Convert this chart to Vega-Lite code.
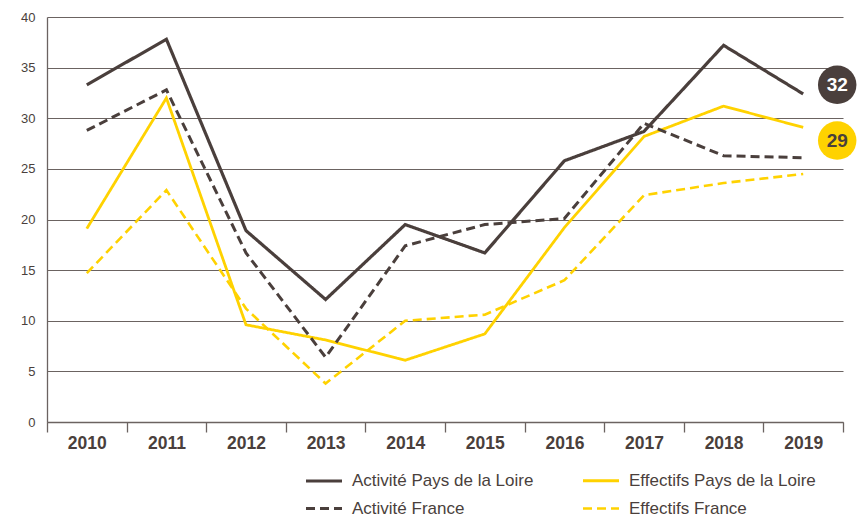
{
  "$schema": "https://vega.github.io/schema/vega-lite/v6.json",
  "width": 796,
  "height": 405,
  "autosize": "none",
  "padding": {"left": 47, "top": 17, "right": 16, "bottom": 94},
  "background": "white",
  "config": {
    "font": "Liberation Sans",
    "view": {"stroke": null},
    "axis": {"labelFont": "Liberation Sans", "labelColor": "#4a3f3c"}
  },
  "datasets": {
    "lines": [
      {"year": "2010", "series": "Activité Pays de la Loire", "value": 33.3},
      {"year": "2011", "series": "Activité Pays de la Loire", "value": 37.8},
      {"year": "2012", "series": "Activité Pays de la Loire", "value": 18.9},
      {"year": "2013", "series": "Activité Pays de la Loire", "value": 12.1},
      {"year": "2014", "series": "Activité Pays de la Loire", "value": 19.5},
      {"year": "2015", "series": "Activité Pays de la Loire", "value": 16.7},
      {"year": "2016", "series": "Activité Pays de la Loire", "value": 25.8},
      {"year": "2017", "series": "Activité Pays de la Loire", "value": 28.7},
      {"year": "2018", "series": "Activité Pays de la Loire", "value": 37.2},
      {"year": "2019", "series": "Activité Pays de la Loire", "value": 32.4},
      {"year": "2010", "series": "Effectifs Pays de la Loire", "value": 19.1},
      {"year": "2011", "series": "Effectifs Pays de la Loire", "value": 32.0},
      {"year": "2012", "series": "Effectifs Pays de la Loire", "value": 9.6},
      {"year": "2013", "series": "Effectifs Pays de la Loire", "value": 8.1},
      {"year": "2014", "series": "Effectifs Pays de la Loire", "value": 6.1},
      {"year": "2015", "series": "Effectifs Pays de la Loire", "value": 8.7},
      {"year": "2016", "series": "Effectifs Pays de la Loire", "value": 19.2},
      {"year": "2017", "series": "Effectifs Pays de la Loire", "value": 28.2},
      {"year": "2018", "series": "Effectifs Pays de la Loire", "value": 31.2},
      {"year": "2019", "series": "Effectifs Pays de la Loire", "value": 29.1},
      {"year": "2010", "series": "Activité France", "value": 28.8},
      {"year": "2011", "series": "Activité France", "value": 32.8},
      {"year": "2012", "series": "Activité France", "value": 16.7},
      {"year": "2013", "series": "Activité France", "value": 6.4},
      {"year": "2014", "series": "Activité France", "value": 17.4},
      {"year": "2015", "series": "Activité France", "value": 19.5},
      {"year": "2016", "series": "Activité France", "value": 20.1},
      {"year": "2017", "series": "Activité France", "value": 29.5},
      {"year": "2018", "series": "Activité France", "value": 26.3},
      {"year": "2019", "series": "Activité France", "value": 26.1},
      {"year": "2010", "series": "Effectifs France", "value": 14.7},
      {"year": "2011", "series": "Effectifs France", "value": 22.9},
      {"year": "2012", "series": "Effectifs France", "value": 11.2},
      {"year": "2013", "series": "Effectifs France", "value": 3.8},
      {"year": "2014", "series": "Effectifs France", "value": 10.0},
      {"year": "2015", "series": "Effectifs France", "value": 10.6},
      {"year": "2016", "series": "Effectifs France", "value": 14.0},
      {"year": "2017", "series": "Effectifs France", "value": 22.4},
      {"year": "2018", "series": "Effectifs France", "value": 23.6},
      {"year": "2019", "series": "Effectifs France", "value": 24.5}
    ],
    "badges": [
      {"year": "2019", "label": "32", "pos": 33.3},
      {"year": "2019", "label": "29", "pos": 27.8}
    ]
  },
  "layer": [
    {
      "data": {"name": "lines"},
      "mark": {"type": "line", "strokeJoin": "miter"},
      "encoding": {
        "x": {
          "field": "year", "type": "ordinal", "title": null,
          "scale": {"paddingInner": 0, "paddingOuter": 0},
          "axis": {
            "labelAngle": 0, "labelFontSize": 17.5, "labelFontWeight": "bold",
            "labelPadding": 2, "tickBand": "extent", "tickSize": 10,
            "tickColor": "#6b6361", "domainColor": "#6b6361", "domainWidth": 1.3,
            "tickWidth": 1.3, "grid": false
          }
        },
        "y": {
          "field": "value", "type": "quantitative", "title": null,
          "scale": {"domain": [0, 40], "nice": false},
          "axis": {
            "values": [0, 5, 10, 15, 20, 25, 30, 35, 40],
            "labelFontSize": 13, "labelPadding": 12, "ticks": false,
            "domainColor": "#6b6361", "domainWidth": 1.3,
            "gridColor": "#6b6361", "gridWidth": 1.2, "gridOpacity": 1
          }
        },
        "color": {
          "field": "series", "type": "nominal",
          "scale": {
            "domain": ["Activité Pays de la Loire", "Activité France", "Effectifs Pays de la Loire", "Effectifs France"],
            "range": ["#4a3f3c", "#4a3f3c", "#ffd200", "#ffd200"]
          },
          "legend": {
            "title": null, "orient": "none", "legendX": 257, "legendY": 444,
            "columns": 2, "columnPadding": 43, "rowPadding": 0,
            "symbolType": "stroke", "symbolSize": 1296, "symbolStrokeWidth": 3.5,
            "labelFontSize": 17, "labelColor": "#4a3f3c", "labelFont": "Liberation Sans",
            "labelLimit": 400, "labelOffset": 8
          }
        },
        "strokeDash": {
          "field": "series", "type": "nominal",
          "scale": {
            "domain": ["Activité Pays de la Loire", "Activité France", "Effectifs Pays de la Loire", "Effectifs France"],
            "range": [[1, 0], [9, 5], [1, 0], [9, 5]]
          }
        },
        "strokeWidth": {
          "field": "series", "type": "nominal", "legend": null,
          "scale": {
            "domain": ["Activité Pays de la Loire", "Activité France", "Effectifs Pays de la Loire", "Effectifs France"],
            "range": [3.2, 2.6, 3.8, 2.6]
          }
        }
      }
    },
    {
      "data": {"name": "badges"},
      "mark": {"type": "point", "filled": true, "shape": "circle", "size": 1480, "xOffset": 34, "opacity": 1},
      "encoding": {
        "x": {"field": "year", "type": "ordinal"},
        "y": {"field": "pos", "type": "quantitative"},
        "color": {"condition": {"test": "datum.label === '32'", "value": "#4a3f3c"}, "value": "#ffd200"}
      }
    },
    {
      "data": {"name": "badges"},
      "mark": {"type": "text", "xOffset": 34, "fontSize": 19, "fontWeight": "bold", "font": "Liberation Sans", "baseline": "middle", "align": "center"},
      "encoding": {
        "x": {"field": "year", "type": "ordinal"},
        "y": {"field": "pos", "type": "quantitative"},
        "text": {"field": "label"},
        "color": {"condition": {"test": "datum.label === '32'", "value": "white"}, "value": "#4a3f3c"}
      }
    }
  ]
}
